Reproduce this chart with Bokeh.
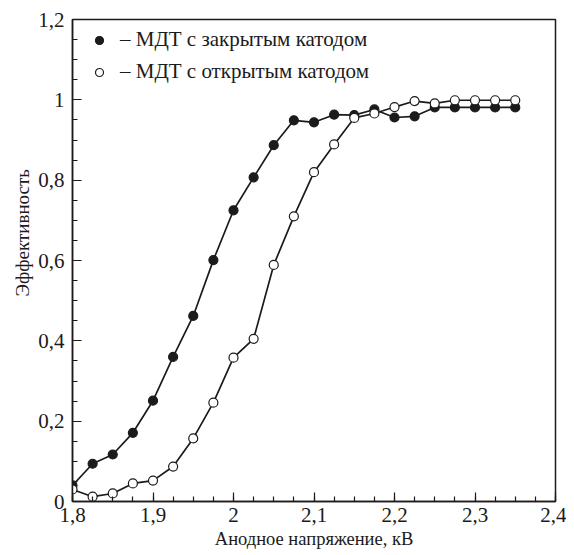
from bokeh.plotting import figure
from bokeh.models import Range1d, FixedTicker, Legend, LegendItem, CustomJSTickFormatter, Title
from bokeh.embed import file_html
from bokeh.resources import INLINE

voltage = [1.8, 1.825, 1.85, 1.875, 1.9, 1.925, 1.95, 1.975, 2.0, 2.025, 2.05, 2.075,
           2.1, 2.125, 2.15, 2.175, 2.2, 2.225, 2.25, 2.275, 2.3, 2.325, 2.35]
closed_eff = [0.040, 0.094, 0.117, 0.171, 0.251, 0.360, 0.462, 0.601, 0.725, 0.807, 0.887, 0.949,
              0.944, 0.963, 0.962, 0.976, 0.956, 0.959, 0.981, 0.981, 0.981, 0.981, 0.981]
open_eff = [0.030, 0.012, 0.020, 0.045, 0.052, 0.087, 0.157, 0.246, 0.358, 0.405, 0.589, 0.710,
            0.820, 0.889, 0.955, 0.966, 0.982, 0.997, 0.991, 0.999, 0.999, 0.999, 0.999]
x_ticks = [1.8, 1.9, 2.0, 2.1, 2.2, 2.3, 2.4]
y_ticks = [0, 0.2, 0.4, 0.6, 0.8, 1.0, 1.2]
label_closed = "– МДТ с закрытым катодом"
label_open = "– МДТ с открытым катодом"
x_title = "Анодное напряжение, кВ"
y_title = "Эффективность"

FONT = "Liberation Serif"
INK = "#1c1a1a"

p = figure(width=566, height=551, output_backend="svg", toolbar_location=None,
           x_range=Range1d(1.8, 2.4), y_range=Range1d(0, 1.2),
           min_border_left=72, min_border_top=19, min_border_right=11, min_border_bottom=49)
p.grid.visible = False
p.outline_line_color = INK
p.outline_line_width = 1.5
p.background_fill_color = "white"
p.border_fill_color = "white"

fmt = CustomJSTickFormatter(code="""
    var s = (Math.round(tick*10)/10).toString();
    return s.replace('.', ',');
""")

for ax, ticks, minor in ((p.xaxis[0], x_ticks, [round(1.8 + 0.025 * i, 3) for i in range(25)]),
                         (p.yaxis[0], y_ticks, [round(0.05 * i, 3) for i in range(25)])):
    ax.ticker = FixedTicker(ticks=ticks, minor_ticks=minor)
    ax.formatter = fmt
    ax.axis_line_color = INK
    ax.axis_line_width = 1.5
    ax.major_tick_in = 9
    ax.major_tick_out = 0
    ax.minor_tick_in = 5
    ax.minor_tick_out = 0
    ax.major_tick_line_color = INK
    ax.minor_tick_line_color = INK
    ax.major_tick_line_width = 1.2
    ax.minor_tick_line_width = 1.2
    ax.major_label_text_font = FONT
    ax.major_label_text_font_size = "21px"
    ax.major_label_text_color = INK
    ax.axis_label_text_font = FONT
    ax.axis_label_text_font_style = "normal"
    ax.axis_label_text_color = INK

p.xaxis.axis_label = x_title
p.xaxis.axis_label_text_font_size = "18.5px"
p.xaxis.major_label_standoff = 6
p.xaxis.axis_label_standoff = 4
p.yaxis.major_label_standoff = 8

p.add_layout(Title(text=y_title, align="left", offset=205, standoff=6,
                   text_font=FONT, text_font_size="19px", text_font_style="normal",
                   text_color=INK), "left")

p.line(voltage, closed_eff, line_color=INK, line_width=1.7)
p.line(voltage, open_eff, line_color=INK, line_width=1.7)
r_closed = p.scatter(voltage, closed_eff, marker="circle", size=9,
                     fill_color=INK, line_color=INK, line_width=1.2)
r_open = p.scatter(voltage, open_eff, marker="circle", size=9,
                   fill_color="white", line_color=INK, line_width=1.2)

legend = Legend(items=[LegendItem(label=label_closed, renderers=[r_closed]),
                       LegendItem(label=label_open, renderers=[r_open])],
                location="top_left", background_fill_alpha=0, border_line_alpha=0,
                label_text_font=FONT, label_text_font_size="21px", label_text_color=INK,
                glyph_width=38, glyph_height=20, label_height=20, label_standoff=2,
                spacing=7, margin=8, padding=0)
p.add_layout(legend)

open("out.html", "w").write(file_html(p, INLINE))
